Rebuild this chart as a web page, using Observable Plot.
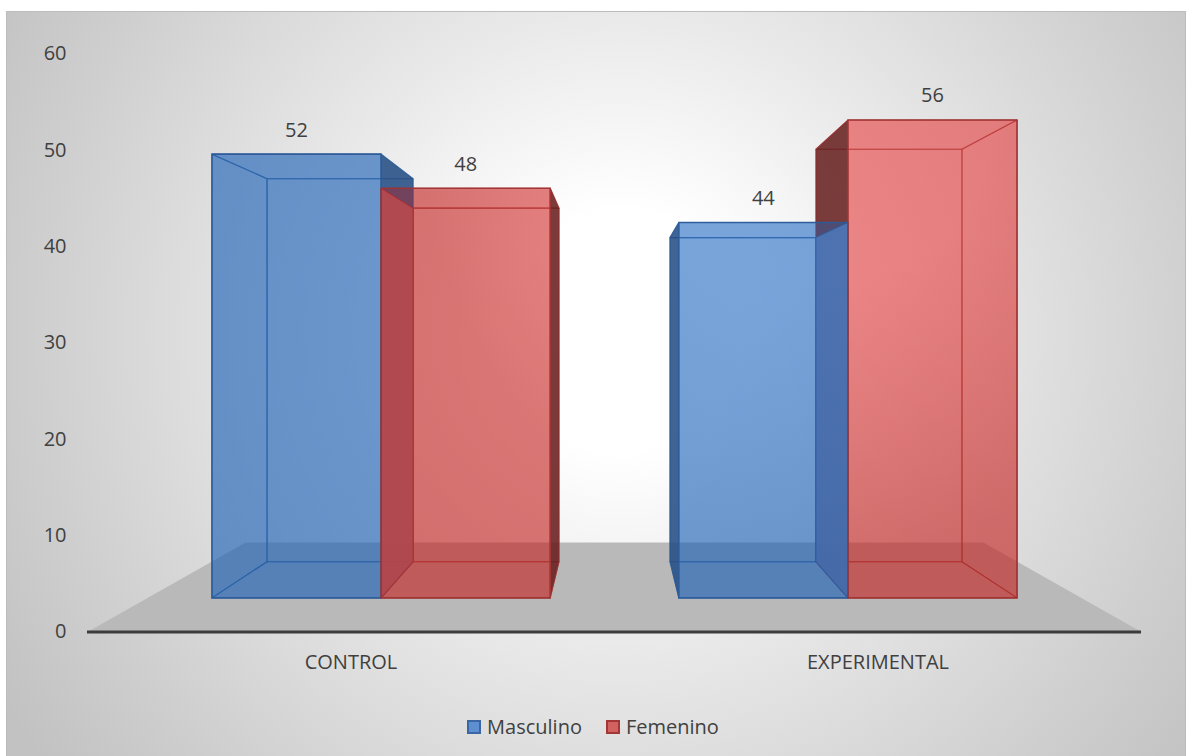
<!DOCTYPE html>
<html><head><meta charset="utf-8">
<script src="https://cdn.jsdelivr.net/npm/d3@7"></script>
<script src="https://cdn.jsdelivr.net/npm/@observablehq/plot@0.6"></script>
<style>
html,body{margin:0;padding:0;width:1186px;height:756px;overflow:hidden;background:#fff;font-family:"Open Sans",sans-serif;}
#frame{position:absolute;left:6px;top:11px;width:1180px;height:760px;box-sizing:border-box;border:1px solid #bcbcbc;
  background:radial-gradient(circle at 614px 320px,#ffffff 0px,#ffffff 120px,#eaeaea 310px,#cfcfcf 580px,#c2c2c2 720px);}
#chart{position:absolute;left:0;top:0;}
#legend{position:absolute;left:0;top:710px;width:1186px;display:flex;justify-content:center;}
.lg-swatch{margin-right:24px !important;}
.lg-swatch:last-child{margin-right:0 !important;}
.lg-swatch > svg{margin-right:6px !important;}
</style></head><body>
<div id="frame"></div><div id="chart"></div><div id="legend"></div>
<script>
// ---- data ----
const categories = ["CONTROL", "EXPERIMENTAL"];
const series = ["Masculino", "Femenino"];
const masculino = [52, 44];
const femenino = [48, 56];
const yTicks = [0, 10, 20, 30, 40, 50, 60];

// ---- 3D view geometry (in scale units) ----
const barW = 0.3623, vanX = 0.5, vanY = 31, sFront = 0.8858, sBack = 0.7646, sFloor = 0.70;
const styles = {
  Masculino: {id: "gM", base: "#175eb6", light: "#276ec6", side: "#254c80", edge: "#2d5c9a", swatch: "#5e8fd0", swatchEdge: "#3a67a4"},
  Femenino: {id: "gF", base: "#c3221f", light: "#e64141", side: "#5c1e1e", edge: "#a03434", swatch: "#d2625f", swatchEdge: "#a33636"}
};
const alphaByKind = {back: 0.38, tb: 0.38, inner: 0.38, outer: 0.8, shared: 0.7, front: 0.38};
const proj = (x, y, s) => ({x: vanX + s * (x - vanX), y: vanY + s * (y - vanY)});

const values = {Masculino: masculino, Femenino: femenino};
const bars = [];
categories.forEach((c, i) => series.forEach((s, j) => bars.push({
  category: c, series: s, index: i, value: values[s][i], x0: i - barW + j * barW, x1: i + j * barW
})));

// faces of each transparent box
const faces = [];
function addFace(id, kind, ser, pts) {
  [...pts, pts[0]].forEach(p => faces.push({id, kind, series: ser, x: p.x, y: p.y}));
}
bars.forEach((b, k) => {
  const {x0, x1, value: v} = b;
  const rect = s => [proj(x0, 0, s), proj(x1, 0, s), proj(x1, v, s), proj(x0, v, s)];
  addFace(k + "back", "back", b.series, rect(sBack));
  addFace(k + "bottom", "tb", b.series, [proj(x0, 0, sFront), proj(x1, 0, sFront), proj(x1, 0, sBack), proj(x0, 0, sBack)]);
  addFace(k + "top", "tb", b.series, [proj(x0, v, sFront), proj(x1, v, sFront), proj(x1, v, sBack), proj(x0, v, sBack)]);
  const left = [proj(x0, 0, sFront), proj(x0, v, sFront), proj(x0, v, sBack), proj(x0, 0, sBack)];
  const right = [proj(x1, 0, sFront), proj(x1, v, sFront), proj(x1, v, sBack), proj(x1, 0, sBack)];
  const rightOuter = x1 <= vanX;
  const innerKind = x => (x === b.index ? "shared" : "inner");
  addFace(k + "left", rightOuter ? innerKind(x0) : "outer", b.series, left);
  addFace(k + "right", rightOuter ? "outer" : innerKind(x1), b.series, right);
  addFace(k + "front", "front", b.series, rect(sFront));
});

const floor = [proj(-0.5, 0, 1), proj(1.5, 0, 1), proj(1.5, 0, sFloor), proj(-0.5, 0, sFloor)];

const faceMarks = [];
for (const kind of ["back", "tb", "inner", "outer", "shared", "front"]) {
  for (const s of series) {
    const st = styles[s];
    const fill = kind === "outer" ? st.side : kind === "shared" ? st.swatch : `url(#${st.id})`;
    faceMarks.push(Plot.line(faces.filter(f => f.kind === kind && f.series === s), {
      x: "x", y: "y", z: "id",
      fill, fillOpacity: alphaByKind[kind],
      stroke: st.edge, strokeOpacity: kind === "front" ? 0.95 : 0.7,
      strokeWidth: kind === "front" ? 1.6 : 1.1, strokeLinejoin: "round"
    }));
  }
}

const plot = Plot.plot({
  width: 1186, height: 700,
  marginLeft: 87, marginRight: 45, marginTop: 53.5, marginBottom: 68.5,
  x: {domain: [-0.5, 1.5], label: null},
  y: {domain: [0, 60], label: null},
  style: {fontFamily: '"Open Sans", sans-serif', fontSize: "20px", color: "#404040", background: "transparent", overflow: "visible"},
  marks: [
    Plot.line([...floor, floor[0]], {x: "x", y: "y", fill: "#b9b9b9", stroke: "none"}),
    Plot.ruleY([0], {stroke: "#3c3c3c", strokeWidth: 3}),
    ...faceMarks,
    Plot.text(bars, {
      x: d => proj((d.x0 + d.x1) / 2, d.value, sFront).x,
      y: d => proj((d.x0 + d.x1) / 2, d.value, sFront).y,
      text: d => String(d.value), dy: -24, fontSize: 20, fill: "#404040"
    }),
    Plot.axisY(yTicks, {tickSize: 0, tickPadding: 21, fontSize: 20, fill: "#404040", label: null}),
    Plot.axisX([0, 1], {tickSize: 0, tickPadding: 23, tickFormat: i => categories[i], fontSize: 20, fill: "#404040", label: null})
  ]
});

// lighting gradients for the faces (lighter toward the upper right)
const ns = "http://www.w3.org/2000/svg";
const defs = document.createElementNS(ns, "defs");
for (const s of series) {
  const st = styles[s];
  const g = document.createElementNS(ns, "radialGradient");
  g.setAttribute("id", st.id);
  g.setAttribute("gradientUnits", "userSpaceOnUse");
  g.setAttribute("cx", 840); g.setAttribute("cy", 130); g.setAttribute("r", 420);
  [[0, st.light], [0.35, st.light], [1, st.base]].forEach(([o, c]) => {
    const stop = document.createElementNS(ns, "stop");
    stop.setAttribute("offset", o); stop.setAttribute("stop-color", c);
    g.appendChild(stop);
  });
  defs.appendChild(g);
}
plot.insertBefore(defs, plot.firstChild);
document.getElementById("chart").appendChild(plot);

const legend = Plot.legend({
  color: {type: "ordinal", domain: series, range: series.map(s => styles[s].swatch)},
  className: "lg", swatchSize: 14
});
legend.style.fontSize = "20px";
legend.style.fontFamily = '"Open Sans", sans-serif';
legend.style.color = "#404040";
legend.style.margin = "0";
legend.querySelectorAll("svg").forEach((sv, k) => {
  const r = sv.querySelector("rect");
  if (r) {
    r.setAttribute("x", 1); r.setAttribute("y", 1);
    r.setAttribute("width", 12); r.setAttribute("height", 12);
    r.setAttribute("stroke", styles[series[k]].swatchEdge);
    r.setAttribute("stroke-width", 2);
  }
});
document.getElementById("legend").appendChild(legend);
</script>
</body></html>
